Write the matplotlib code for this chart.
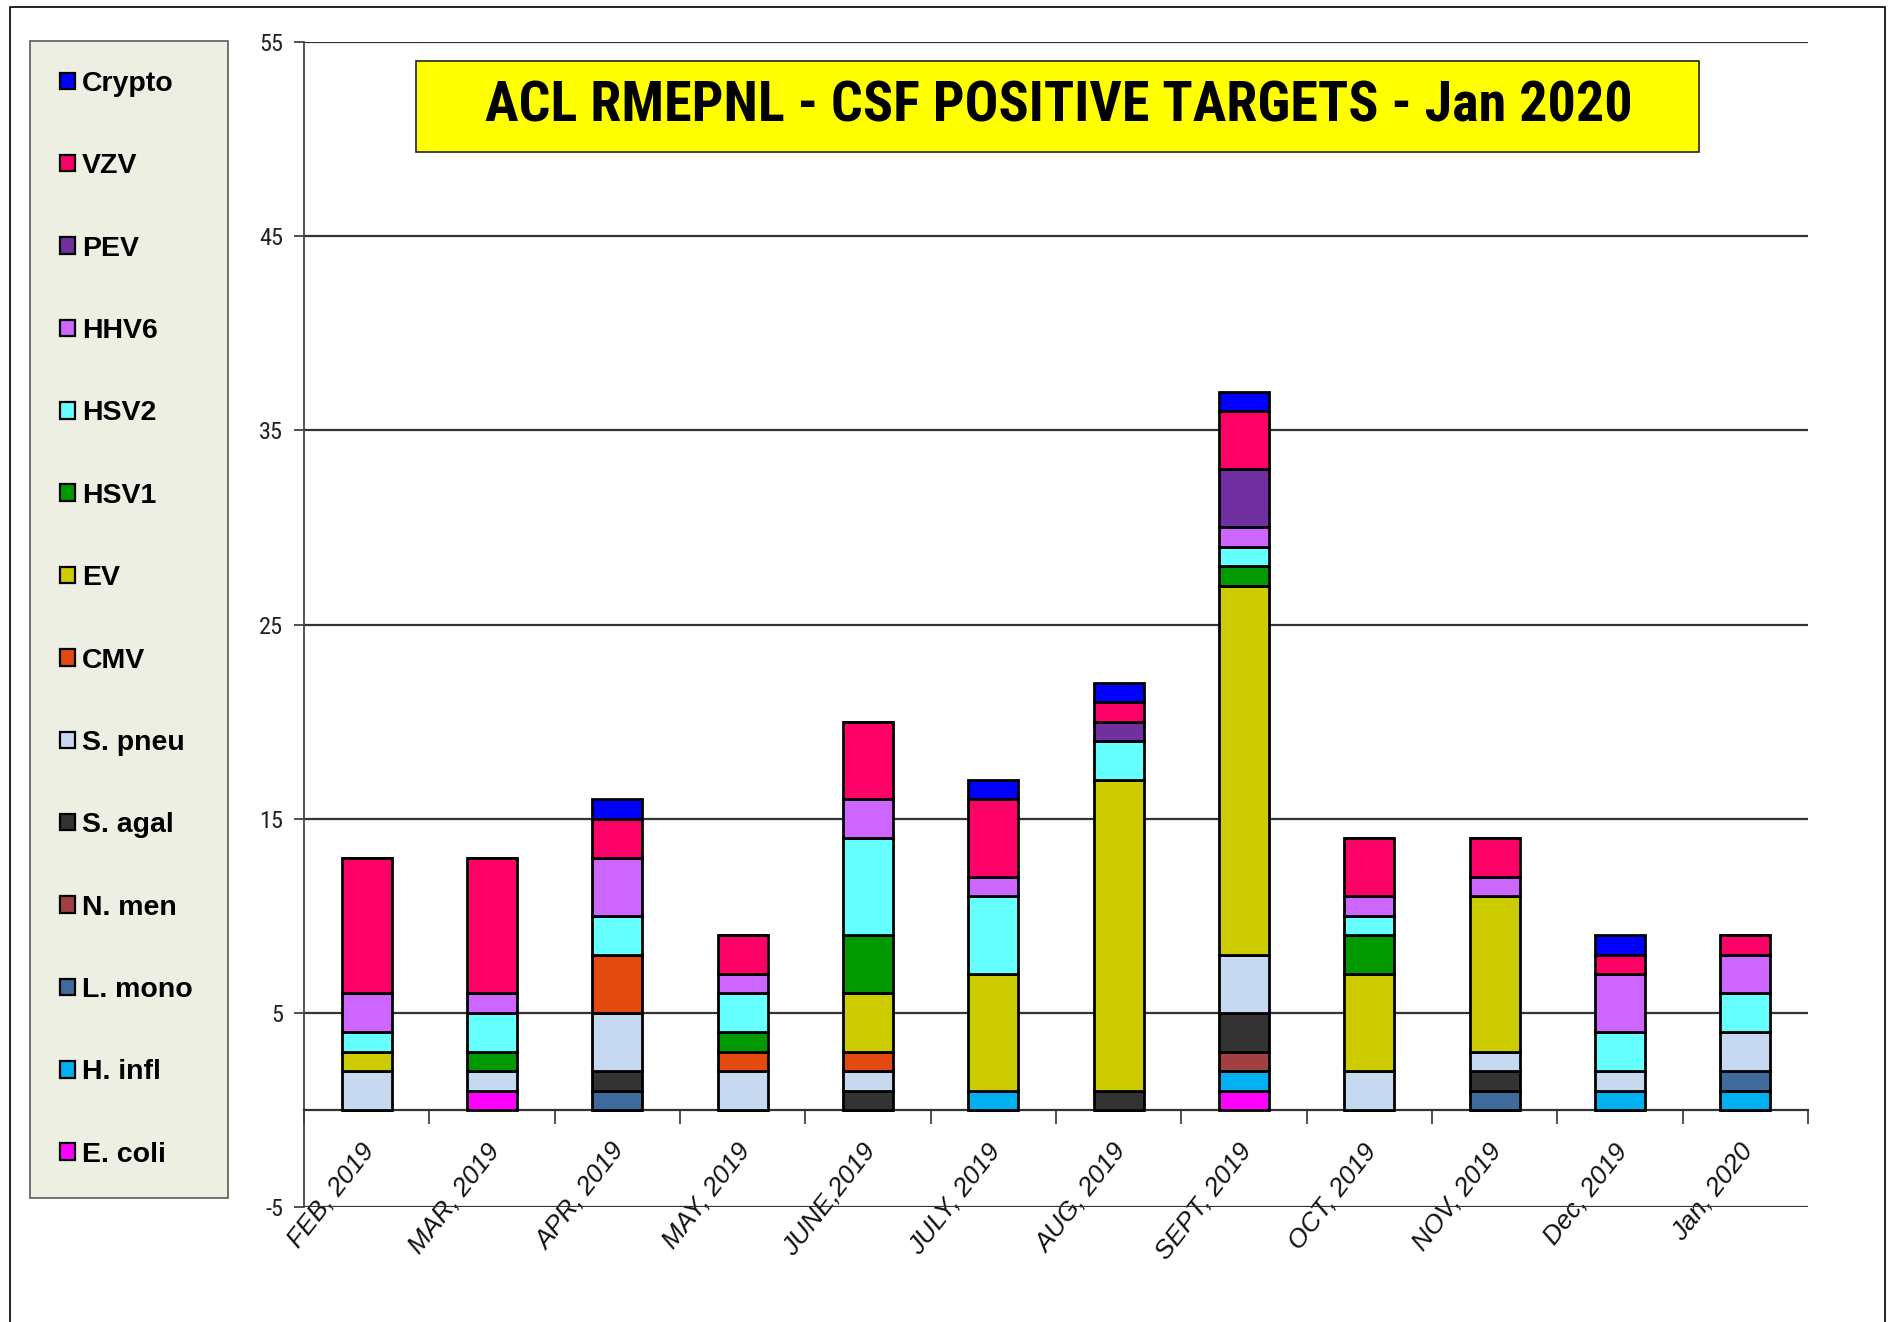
import matplotlib
matplotlib.use("Agg")
import matplotlib.pyplot as plt
import matplotlib.patches as mpatches
import matplotlib.transforms as mtransforms
from matplotlib import font_manager
from matplotlib.font_manager import FontProperties
import numpy as np

# ---------------- data ----------------
months = ["FEB, 2019", "MAR, 2019", "APR, 2019", "MAY, 2019", "JUNE,2019", "JULY, 2019",
          "AUG, 2019", "SEPT, 2019", "OCT, 2019", "NOV, 2019", "Dec, 2019", "Jan, 2020"]

# stacked bottom -> top
e_coli  = [0, 1, 0, 0, 0, 0, 0, 1, 0, 0, 0, 0]
h_infl  = [0, 0, 0, 0, 0, 1, 0, 1, 0, 0, 1, 1]
l_mono  = [0, 0, 1, 0, 0, 0, 0, 0, 0, 1, 0, 1]
n_men   = [0, 0, 0, 0, 0, 0, 0, 1, 0, 0, 0, 0]
s_agal  = [0, 0, 1, 0, 1, 0, 1, 2, 0, 1, 0, 0]
s_pneu  = [2, 1, 3, 2, 1, 0, 0, 3, 2, 1, 1, 2]
cmv     = [0, 0, 3, 1, 1, 0, 0, 0, 0, 0, 0, 0]
ev      = [1, 0, 0, 0, 3, 6, 16, 19, 5, 8, 0, 0]
hsv1    = [0, 1, 0, 1, 3, 0, 0, 1, 2, 0, 0, 0]
hsv2    = [1, 2, 2, 2, 5, 4, 2, 1, 1, 0, 2, 2]
hhv6    = [2, 1, 3, 1, 2, 1, 0, 1, 1, 1, 3, 2]
pev     = [0, 0, 0, 0, 0, 0, 1, 3, 0, 0, 0, 0]
vzv     = [7, 7, 2, 2, 4, 4, 1, 3, 3, 2, 1, 1]
crypto  = [0, 0, 1, 0, 0, 1, 1, 1, 0, 0, 1, 0]

series_names = ["E. coli", "H. infl", "L. mono", "N. men", "S. agal", "S. pneu", "CMV",
                "EV", "HSV1", "HSV2", "HHV6", "PEV", "VZV", "Crypto"]
series_values = [e_coli, h_infl, l_mono, n_men, s_agal, s_pneu, cmv,
                 ev, hsv1, hsv2, hhv6, pev, vzv, crypto]
series_colors = ["#FF00FF", "#00B0F0", "#3F6A9C", "#A04040", "#333333", "#C6D9F0", "#E34A10",
                 "#CCCC00", "#009900", "#66FFFF", "#CC66FF", "#7030A0", "#FF0066", "#0000FF"]

title = "ACL RMEPNL - CSF POSITIVE TARGETS - Jan 2020"
yticks = [-5, 5, 15, 25, 35, 45, 55]

# ---------------- fonts ----------------
plt.rcParams["font.family"] = ["Liberation Sans", "DejaVu Sans"]


def find_condensed(bold):
    """Look for an installed narrow / condensed sans font file."""
    cands = []
    for f in font_manager.fontManager.ttflist:
        nm = f.name.lower()
        fn = f.fname.lower()
        narrowish = ("narrow" in nm or "condensed" in nm or "condensed" in fn
                     or "narrow" in fn or f.stretch in ("condensed", "semi-condensed"))
        if not narrowish or "extra" in fn or "ultra" in fn or "italic" in fn or "oblique" in fn:
            continue
        w = f.weight if isinstance(f.weight, int) else (700 if "bold" in str(f.weight) else 400)
        if bold and w < 600:
            continue
        if not bold and w >= 600:
            continue
        if "semi" in fn or "light" in fn or "medium" in fn or "black" in fn or "thin" in fn:
            continue
        prio = 9
        for i, key in enumerate(["liberation sans narrow", "arial narrow", "roboto condensed",
                                 "noto sans", "open sans", "dejavu sans"]):
            if key in nm:
                prio = i
                break
        cands.append((prio, f.fname))
    if not cands:
        return None
    cands.sort()
    return cands[0][1]


cb = find_condensed(True)
cr = find_condensed(False)
title_fp = FontProperties(fname=cb) if cb else FontProperties(family="Liberation Sans", weight="bold")
tick_fp = FontProperties(fname=cr) if cr else FontProperties(family="Liberation Sans")

W, H = 1893, 1322
fig = plt.figure(figsize=(W / 100, H / 100), dpi=100)
renderer = fig.canvas.get_renderer()

ax = fig.add_axes([304 / W, 1 - 1207 / H, (1808 - 304) / W, (1207 - 42) / H])
x = np.arange(len(months))
bottom = np.zeros(len(months))
containers = []
for name, vals, col in zip(series_names, series_values, series_colors):
    v = np.array(vals, dtype=float)
    c = ax.bar(x, v, 0.4, bottom=bottom, color=col, edgecolor="black",
               linewidth=2.0, label=name, zorder=3)
    containers.append(c)
    bottom += v

ax.set_xlim(-0.5, len(months) - 0.5)
ax.set_ylim(-5, 55)
ax.set_yticks(yticks)
ax.set_yticklabels([str(t) for t in yticks], color="#222222")
# size y tick labels so that "55" is about 24 px wide
for lbl in ax.get_yticklabels():
    lbl.set_fontproperties(tick_fp)
    lbl.set_fontsize(17)
tmp = fig.text(0, 0, "55", fontproperties=tick_fp, fontsize=17)
wpx = tmp.get_window_extent(renderer).width
tmp.remove()
ysize = 17 * 24.0 / max(wpx, 1)
ysize = min(ysize, 22)
for lbl in ax.get_yticklabels():
    lbl.set_fontsize(ysize)

ax.yaxis.grid(True, color="#333333", linewidth=1.6, zorder=0)
ax.set_axisbelow(True)
ax.tick_params(axis="y", length=7, width=1.2, pad=8, color="#333333")

for s in ["top", "right"]:
    ax.spines[s].set_visible(False)
ax.spines["left"].set_color("#444444")
ax.spines["left"].set_linewidth(1.3)
ax.spines["bottom"].set_position(("data", 0))
ax.spines["bottom"].set_color("#333333")
ax.spines["bottom"].set_linewidth(1.6)

ax.set_xticks(x)
ax.set_xticklabels(months, rotation=52, ha="right", va="top", fontsize=19, style="italic",
                   color="#111111")
ax.set_xticks(np.arange(len(months) + 1) - 0.5, minor=True)
ax.tick_params(axis="x", which="major", length=0, pad=21)
ax.tick_params(axis="x", which="minor", length=10, width=1.2, color="#333333", direction="out")
offset = mtransforms.ScaledTranslation(12 / 100, 0, fig.dpi_scale_trans)
for lbl in ax.get_xticklabels():
    lbl.set_transform(lbl.get_transform() + offset)

# title box
fig.patches.append(mpatches.Rectangle((416 / W, 1 - 152 / H), (1699 - 416) / W, 91 / H,
                                      transform=fig.transFigure, facecolor="#FFFF00",
                                      edgecolor="#222222", linewidth=1.2, zorder=5))
t = fig.text(1059 / W, 1 - 107 / H, title, ha="center", va="center",
             fontproperties=title_fp, fontsize=34, color="black", zorder=6)
if cb:
    t.set_fontweight("bold")
bb = t.get_window_extent(renderer)
tsize = 34 * 1150.0 / bb.width
tsize = min(tsize, 46)
t.set_fontsize(tsize)

# legend
handles = containers[::-1]
labels = series_names[::-1]
leg = fig.legend(handles, labels, loc="upper left",
                 bbox_to_anchor=(30 / W, 1 - 1201 / H, 198 / W, 1160 / H), mode="expand",
                 prop={"weight": "bold", "size": 20.5},
                 labelspacing=1.98, borderpad=1.05, handlelength=0.52, handleheight=0.52,
                 handletextpad=0.25, frameon=True, fancybox=False, borderaxespad=0)
leg.get_frame().set_facecolor("#E9ECDC")
leg.get_frame().set_edgecolor("#333333")
leg.get_frame().set_linewidth(1.2)
for h in leg.legend_handles:
    h.set_linewidth(1.6)

# outer frame
fig.patches.append(mpatches.Rectangle((10 / W, -0.1), 1875 / W, 1.1 - 7 / H,
                                      transform=fig.transFigure, facecolor="none",
                                      edgecolor="black", linewidth=1.2, zorder=10))

fig.savefig("out.png", dpi=100)
